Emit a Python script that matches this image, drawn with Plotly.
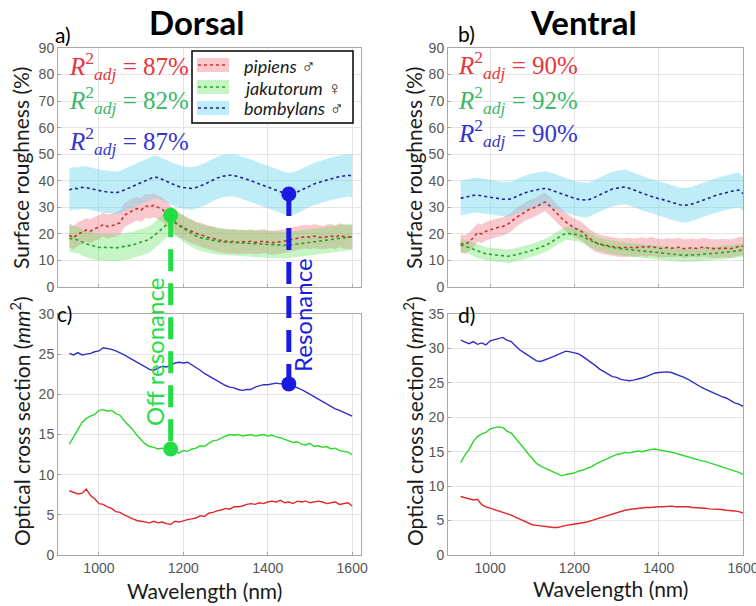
import plotly.graph_objects as go

W, H = 756, 606

# ---------------- DATA ----------------
wl = list(range(930, 1601, 10))  # wavelength (nm)

# Surface roughness (%), Dorsal (panel a)
sr_dors_pipiens = [19.5, 18.5, 20.0, 20.5, 21.5, 21.0, 22.0, 22.5, 23.5, 22.8,
                   23.0, 23.5, 24.2, 27.0, 28.0, 28.8, 29.5, 29.0, 30.5, 30.2,
                   30.8, 30.0, 29.2, 27.8, 26.0, 24.5, 23.2, 22.6, 21.5, 21.0,
                   20.2, 19.8, 19.2, 18.6, 18.4, 17.8, 17.5, 17.3, 17.0, 17.2,
                   16.8, 17.1, 16.9, 17.2, 16.8, 17.0, 17.3, 16.9, 16.7, 16.8,
                   17.0, 17.3, 17.7, 18.0, 18.4, 18.8, 19.0, 18.7, 19.2, 18.8,
                   18.6, 18.9, 19.2, 18.7, 19.5, 19.0, 18.8, 18.9]
sr_dors_jakutorum = [18.3, 18.0, 17.7, 17.0, 16.2, 15.8, 15.3, 14.9, 15.0, 14.8,
                     14.9, 14.7, 15.0, 15.2, 15.4, 15.8, 16.4, 16.8, 17.4, 18.0,
                     19.2, 20.6, 22.0, 23.5, 24.6, 24.2, 23.0, 22.0, 21.0, 20.0,
                     19.2, 18.6, 18.2, 17.8, 17.5, 17.2, 17.0, 16.9, 16.8, 16.7,
                     16.6, 16.5, 16.4, 16.3, 16.2, 16.2, 16.1, 16.0, 15.9, 15.8,
                     15.8, 15.7, 15.8, 15.9, 16.2, 16.4, 16.6, 16.8, 17.0, 17.2,
                     17.4, 17.7, 17.9, 18.1, 18.3, 18.5, 18.7, 18.9]
sr_dors_bombylans = [36.5, 37.2, 37.0, 37.5, 37.4, 37.0, 36.6, 36.2, 36.0, 35.8,
                     35.6, 35.5, 35.8, 36.6, 37.2, 37.9, 38.6, 39.3, 40.1, 40.8,
                     41.4, 41.2, 40.6, 39.8, 39.0, 38.4, 37.8, 37.5, 37.2, 37.1,
                     37.5, 38.0, 38.6, 39.5, 40.4, 41.0, 41.6, 41.9, 42.1, 42.0,
                     41.6, 41.2, 40.6, 40.0, 39.4, 38.8, 38.2, 37.6, 37.1, 36.5,
                     35.8, 35.3, 35.0, 35.2, 35.8, 36.6, 37.5, 38.2, 38.8, 39.3,
                     39.8, 40.3, 40.8, 41.2, 41.5, 41.8, 42.1, 41.8]

# Surface roughness (%), Ventral (panel b)
sr_vent_pipiens = [16.4, 16.0, 17.0, 18.5, 20.5, 20.0, 21.0, 21.4, 22.0, 22.5,
                   22.8, 23.5, 24.5, 26.0, 27.0, 28.3, 29.0, 29.6, 30.2, 31.2,
                   32.0, 30.8, 29.0, 27.5, 25.8, 24.4, 23.2, 22.2, 21.5, 20.6,
                   19.0, 17.8, 16.8, 16.2, 15.8, 15.4, 15.2, 15.0, 14.8, 14.9,
                   15.0, 14.7, 14.9, 15.2, 14.8, 15.3, 15.0, 14.6, 14.5, 14.9,
                   14.6, 14.9, 15.0, 14.4, 14.6, 14.8, 14.5, 14.9, 15.0, 14.6,
                   14.5, 14.4, 14.7, 14.6, 14.4, 14.8, 15.3, 15.4]
sr_vent_jakutorum = [15.8, 15.2, 14.9, 14.2, 13.4, 13.0, 12.5, 12.3, 12.1, 12.0,
                     11.8, 11.6, 11.7, 12.2, 12.5, 12.9, 13.3, 13.8, 14.4, 14.9,
                     15.6, 16.4, 17.4, 18.6, 19.4, 20.2, 20.1, 19.9, 19.5, 19.0,
                     18.2, 17.3, 16.6, 16.0, 15.6, 15.2, 14.9, 14.6, 14.4, 14.2,
                     14.1, 13.9, 13.7, 13.6, 13.4, 13.3, 13.1, 12.9, 12.7, 12.5,
                     12.3, 12.1, 12.0, 11.9, 12.0, 12.0, 12.1, 12.2, 12.4, 12.5,
                     12.6, 12.7, 12.9, 13.1, 13.3, 13.5, 13.7, 13.9]
sr_vent_bombylans = [33.4, 33.8, 34.2, 34.5, 34.6, 34.3, 34.0, 33.8, 33.5, 33.3,
                     33.1, 33.0, 33.2, 34.0, 34.6, 35.3, 35.9, 36.3, 36.7, 36.9,
                     37.1, 36.8, 36.2, 35.6, 35.0, 34.4, 33.9, 33.4, 33.0, 32.8,
                     32.7, 33.2, 34.0, 34.8, 35.6, 36.3, 36.9, 37.2, 37.5, 37.7,
                     37.2, 36.7, 36.0, 35.4, 34.8, 34.2, 33.7, 33.2, 32.9, 32.4,
                     31.9, 31.4, 31.0, 30.8, 30.9, 31.3, 31.9, 32.5, 33.1, 33.7,
                     34.3, 34.7, 35.1, 35.6, 35.9, 36.3, 36.5, 35.2]

# Half-width of the shaded bands (%)
band_dors = {"pipiens": 4.5, "jakutorum": 5.0, "bombylans": 8.0}
band_vent = {"pipiens": 3.5, "jakutorum": 2.5, "bombylans": 6.5}

# Optical cross section (mm^2), Dorsal (panel c)
ocs_dors_pipiens = [8.0, 7.8, 7.6, 7.7, 8.2, 7.4, 7.0, 6.4, 6.3, 6.0,
                    5.8, 5.4, 5.3, 5.0, 4.7, 4.5, 4.3, 4.2, 4.1, 4.0,
                    4.2, 4.0, 4.1, 3.9, 3.8, 4.2, 4.1, 4.3, 4.4, 4.5,
                    4.6, 4.9, 4.8, 5.2, 5.3, 5.5, 5.6, 5.8, 5.7, 6.0,
                    6.0, 6.1, 6.3, 6.4, 6.3, 6.5, 6.4, 6.6, 6.7, 6.6,
                    6.8, 6.5, 6.6, 6.4, 6.7, 6.6, 6.7, 6.5, 6.6, 6.7,
                    6.6, 6.4, 6.5, 6.6, 6.3, 6.4, 6.5, 6.1]
ocs_dors_jakutorum = [13.8, 14.8, 15.6, 16.5, 17.0, 17.3, 17.5, 18.0, 18.1, 17.9,
                      18.0, 17.6, 17.4, 16.7, 16.2, 15.6, 14.9, 14.3, 13.8, 13.5,
                      13.4, 13.2, 13.3, 13.1, 13.2, 12.8, 12.7, 13.0, 12.9, 13.2,
                      13.3, 13.6, 13.5, 13.9, 14.2, 14.3, 14.6, 14.8, 15.0, 14.9,
                      15.0, 14.8, 14.9, 15.0, 14.8, 14.9, 15.0, 14.8, 14.9, 14.7,
                      14.6, 14.4, 14.2, 14.0, 14.1, 13.8, 13.7, 13.9, 13.5, 13.6,
                      13.4, 13.5, 13.2, 13.3, 13.0, 12.9, 12.8, 12.5]
ocs_dors_bombylans = [25.1, 24.9, 25.2, 24.9, 25.0, 25.1, 25.3, 25.4, 25.8, 25.7,
                      25.6, 25.4, 25.2, 24.9, 24.6, 24.3, 23.9, 23.6, 23.3, 23.1,
                      23.0, 23.3, 23.5, 23.4, 23.6, 23.9, 24.0, 23.9, 24.0, 23.7,
                      23.4, 23.0, 22.6, 22.3, 21.9, 21.6, 21.3, 21.1, 20.9, 20.8,
                      20.6, 20.5, 20.6, 20.6, 20.9, 21.1, 21.2, 21.2, 21.3, 21.4,
                      21.3, 21.4, 21.3, 21.1, 20.8, 20.6, 20.3, 20.0, 19.7, 19.4,
                      19.0, 18.7, 18.5, 18.2, 18.0, 17.8, 17.5, 17.3]

# Optical cross section (mm^2), Ventral (panel d)
ocs_vent_pipiens = [8.5, 8.3, 8.2, 8.0, 8.1, 7.3, 7.0, 6.8, 6.7, 6.5,
                    6.2, 6.0, 5.8, 5.5, 5.2, 4.9, 4.6, 4.4, 4.3, 4.2,
                    4.1, 4.0, 4.0, 4.0, 4.2, 4.3, 4.4, 4.5, 4.5, 4.7,
                    4.8, 5.0, 5.2, 5.4, 5.6, 5.8, 6.0, 6.2, 6.3, 6.5,
                    6.6, 6.7, 6.8, 6.8, 6.9, 6.9, 7.0, 7.0, 7.0, 7.1,
                    7.1, 7.0, 7.0, 7.1, 7.0, 6.9, 6.9, 6.8, 6.8, 6.7,
                    6.7, 6.6, 6.6, 6.5, 6.5, 6.4, 6.3, 6.1]
ocs_vent_jakutorum = [13.4, 14.5, 15.3, 16.5, 17.2, 17.6, 17.8, 18.3, 18.5, 18.6,
                      18.5, 18.0, 17.7, 17.0, 16.3, 15.5, 14.7, 14.0, 13.3, 12.9,
                      12.6, 12.4, 12.1, 11.7, 11.5, 11.7, 11.8, 11.9, 12.2, 12.3,
                      12.6, 12.8, 13.2, 13.5, 13.7, 14.0, 14.3, 14.6, 14.7, 14.9,
                      14.8, 15.0, 15.1, 15.0, 15.2, 15.3, 15.4, 15.3, 15.2, 15.1,
                      15.0, 14.8, 14.6, 14.4, 14.2, 14.0, 13.8, 13.7, 13.6, 13.4,
                      13.3, 13.0, 12.9, 12.7, 12.4, 12.2, 12.0, 11.7]
ocs_vent_bombylans = [31.2, 31.0, 30.7, 31.0, 30.6, 30.8, 30.5, 31.1, 31.3, 31.5,
                      31.6, 31.2, 31.0, 30.4, 29.8, 29.4, 29.0, 28.7, 28.2, 28.1,
                      28.3, 28.5, 28.8, 29.1, 29.4, 29.6, 29.5, 29.4, 29.2, 28.8,
                      28.4, 28.0, 27.5, 27.0, 26.6, 26.2, 25.9, 25.8, 25.5, 25.4,
                      25.3, 25.4, 25.5, 25.7, 25.9, 26.2, 26.4, 26.5, 26.6, 26.6,
                      26.5, 26.3, 26.1, 25.8, 25.5, 25.1, 24.8, 24.4, 24.1, 23.8,
                      23.6, 23.3, 23.0, 22.8, 22.4, 22.1, 21.9, 21.6]

r2_dorsal = [87, 82, 87]
r2_ventral = [90, 92, 90]
species = ["pipiens", "jakutorum", "bombylans"]
species_sex = ["♂", "♀", "♂"]

off_res_wl, res_wl = 1170, 1450
off_res_sr, off_res_ocs = 27.0, 13.2
res_sr, res_ocs = 35.0, 21.3

sr_ticks = list(range(0, 91, 10))
ocs_d_ticks = list(range(0, 31, 5))
ocs_v_ticks = list(range(0, 36, 5))
wl_ticks = [1000, 1200, 1400, 1600]

# ---------------- STYLE ----------------
line_col = {"pipiens": "#e02828", "jakutorum": "#2ad82a", "bombylans": "#2e2ec8"}
dot_col = {"pipiens": "#c83030", "jakutorum": "#1fa81f", "bombylans": "#2020a0"}
band_col = {"pipiens": "rgba(240,110,120,0.38)", "jakutorum": "rgba(90,225,90,0.35)",
            "bombylans": "rgba(110,215,240,0.45)"}
r2_col = ["#e8353a", "#3cb86a", "#3535cc"]
green_ann = "#22dd44"
blue_ann = "#1a1ae0"


def px(x):
    return x / W


def py(y):
    return 1 - y / H


dom_x_left = [px(58), px(361)]
dom_x_right = [px(448), px(743)]
dom_y_top = [py(287), py(48)]
dom_y_bot = [py(555), py(314)]
range_left = [903, 1621]
range_right = [900, 1600]

fig = go.Figure()

panels = [
    ("x", "y", [sr_dors_pipiens, sr_dors_jakutorum, sr_dors_bombylans], band_dors),
    ("x2", "y2", [sr_vent_pipiens, sr_vent_jakutorum, sr_vent_bombylans], band_vent),
]
for xa, ya, series, bands in panels:
    for sp, vals in zip(species, series):
        hw = bands[sp]
        upper = [v + hw for v in vals]
        lower = [v - hw for v in vals]
        fig.add_trace(go.Scatter(x=wl + wl[::-1], y=upper + lower[::-1], fill="toself",
                                 fillcolor=band_col[sp], line=dict(width=0), mode="lines",
                                 hoverinfo="skip", showlegend=False, xaxis=xa, yaxis=ya))
    for sp, vals in zip(species, series):
        fig.add_trace(go.Scatter(x=wl, y=vals, mode="lines",
                                 line=dict(color=dot_col[sp], width=1.6, dash="dot"),
                                 showlegend=False, xaxis=xa, yaxis=ya))

for xa, ya, series in [("x3", "y3", [ocs_dors_pipiens, ocs_dors_jakutorum, ocs_dors_bombylans]),
                       ("x4", "y4", [ocs_vent_pipiens, ocs_vent_jakutorum, ocs_vent_bombylans])]:
    for sp, vals in zip(species, series):
        fig.add_trace(go.Scatter(x=wl, y=vals, mode="lines",
                                 line=dict(color=line_col[sp], width=1.4),
                                 showlegend=False, xaxis=xa, yaxis=ya))

# resonance markers
fig.add_trace(go.Scatter(x=[off_res_wl], y=[off_res_sr], mode="markers",
                         marker=dict(color=green_ann, size=15), showlegend=False, xaxis="x", yaxis="y"))
fig.add_trace(go.Scatter(x=[res_wl], y=[res_sr], mode="markers",
                         marker=dict(color=blue_ann, size=15), showlegend=False, xaxis="x", yaxis="y"))
fig.add_trace(go.Scatter(x=[off_res_wl], y=[off_res_ocs], mode="markers",
                         marker=dict(color=green_ann, size=15), showlegend=False, xaxis="x3", yaxis="y3"))
fig.add_trace(go.Scatter(x=[res_wl], y=[res_ocs], mode="markers",
                         marker=dict(color=blue_ann, size=15), showlegend=False, xaxis="x3", yaxis="y3"))


def to_paper(v, rng, dom):
    return dom[0] + (v - rng[0]) / (rng[1] - rng[0]) * (dom[1] - dom[0])


shapes = []
for wlv, v_top, v_bot, col in [(off_res_wl, off_res_sr, off_res_ocs, green_ann),
                               (res_wl, res_sr, res_ocs, blue_ann)]:
    shapes.append(dict(type="line", xref="x", yref="paper", x0=wlv, x1=wlv,
                       y0=to_paper(v_top, [0, 90], dom_y_top),
                       y1=to_paper(v_bot, [0, 30], dom_y_bot),
                       line=dict(color=col, width=5, dash="22px,12px"), layer="above"))

# legend box (panel a)
shapes.append(dict(type="rect", xref="paper", yref="paper", x0=px(192), x1=px(353),
                   y0=py(123), y1=py(51), line=dict(color="black", width=1.5),
                   fillcolor="white", layer="above"))
annotations = []
leg_rows = [65, 87, 108]
for sp, sx, yr in zip(species, species_sex, leg_rows):
    shapes.append(dict(type="rect", xref="paper", yref="paper", x0=px(197), x1=px(229),
                       y0=py(yr + 7), y1=py(yr - 7), line=dict(width=0),
                       fillcolor=band_col[sp], layer="above"))
    shapes.append(dict(type="line", xref="paper", yref="paper", x0=px(198), x1=px(228),
                       y0=py(yr), y1=py(yr), line=dict(color=dot_col[sp], width=1.6, dash="dot"),
                       layer="above"))
    annotations.append(dict(xref="paper", yref="paper", x=px(242), y=py(yr), xanchor="left",
                            yanchor="middle", showarrow=False,
                            text=f"<i>{sp}</i> <span style='font-size:19px'>{sx}</span>",
                            font=dict(family="Lato, Open Sans, sans-serif", size=18, color="#1a1a1a")))

# R^2 annotations
for vals, x0, ys in [(r2_dorsal, 67, [66, 100, 141]), (r2_ventral, 456, [65, 100, 133])]:
    for v, c, yy in zip(vals, r2_col, ys):
        annotations.append(dict(xref="paper", yref="paper", x=px(x0), y=py(yy), xanchor="left",
                                yanchor="middle", showarrow=False,
                                text=f"<i>R</i><sup>2</sup><sub><i>adj</i></sub> = {v}%",
                                font=dict(family="Liberation Serif, DejaVu Serif, serif", size=25, color=c)))

title_font = dict(family="Lato, Open Sans, sans-serif", size=33, color="black")
annotations += [
    dict(xref="paper", yref="paper", x=px(197), y=py(22), text="<b>Dorsal</b>", showarrow=False,
         font=title_font, xanchor="center", yanchor="middle"),
    dict(xref="paper", yref="paper", x=px(583), y=py(22), text="<b>Ventral</b>", showarrow=False,
         font=title_font, xanchor="center", yanchor="middle"),
]
lab_font = dict(family="Lato, Open Sans, sans-serif", size=21, color="black")
for t, x, y in [("a)", 63, 35), ("b)", 467, 33), ("c)", 64, 313), ("d)", 467, 314)]:
    annotations.append(dict(xref="paper", yref="paper", x=px(x), y=py(y), text=t, showarrow=False,
                            font=lab_font, xanchor="center", yanchor="middle"))

ax_font = dict(family="Lato, Open Sans, sans-serif", size=21, color="#1a1a1a")
for x, y, t in [(20, 168, "Surface roughness (%)"), (413, 168, "Surface roughness (%)"),
                (20, 421, "Optical cross section (<i>mm</i><sup>2</sup>)"),
                (413, 421, "Optical cross section (<i>mm</i><sup>2</sup>)")]:
    annotations.append(dict(xref="paper", yref="paper", x=px(x), y=py(y), text=t, showarrow=False,
                            textangle=-90, font=ax_font, xanchor="center", yanchor="middle"))
for x, y in [(204, 590), (610, 588)]:
    annotations.append(dict(xref="paper", yref="paper", x=px(x), y=py(y), text="Wavelength (nm)",
                            showarrow=False, font=ax_font, xanchor="center", yanchor="middle"))

annotations.append(dict(xref="paper", yref="paper", x=px(154), y=py(352), text="Off resonance",
                        showarrow=False, textangle=-90, xanchor="center", yanchor="middle",
                        font=dict(family="Lato, Open Sans, sans-serif", size=24, color=green_ann)))
annotations.append(dict(xref="paper", yref="paper", x=px(302), y=py(315), text="Resonance",
                        showarrow=False, textangle=-90, xanchor="center", yanchor="middle",
                        font=dict(family="Lato, Open Sans, sans-serif", size=24, color=blue_ann)))

common = dict(showgrid=True, gridcolor="#e4e4e4", gridwidth=1, showline=True, linecolor="#a8a8a8",
              linewidth=1, mirror=True, ticks="inside", ticklen=3, tickcolor="#a8a8a8",
              tickfont=dict(family="Liberation Sans, Arial, sans-serif", size=14, color="#555555"),
              zeroline=False, automargin=False, fixedrange=True, ticklabeloverflow="allow")

fig.update_layout(
    width=W, height=H, margin=dict(l=0, r=0, t=0, b=0),
    paper_bgcolor="white", plot_bgcolor="white", showlegend=False,
    xaxis=dict(domain=dom_x_left, range=range_left, anchor="y", tickvals=wl_ticks,
               showticklabels=False, **common),
    yaxis=dict(domain=dom_y_top, range=[0, 90], anchor="x", tickvals=sr_ticks, **common),
    xaxis2=dict(domain=dom_x_right, range=range_right, anchor="y2", tickvals=wl_ticks,
                showticklabels=False, **common),
    yaxis2=dict(domain=dom_y_top, range=[0, 90], anchor="x2", tickvals=sr_ticks, **common),
    xaxis3=dict(domain=dom_x_left, range=range_left, anchor="y3", tickvals=wl_ticks, **common),
    yaxis3=dict(domain=dom_y_bot, range=[0, 30], anchor="x3", tickvals=ocs_d_ticks, **common),
    xaxis4=dict(domain=dom_x_right, range=range_right, anchor="y4", tickvals=wl_ticks, **common),
    yaxis4=dict(domain=dom_y_bot, range=[0, 35], anchor="x4", tickvals=ocs_v_ticks, **common),
    shapes=shapes, annotations=annotations,
)

fig.write_html("out.html", config={"displayModeBar": False},
               post_script="document.body.style.margin='0';document.body.style.overflow='hidden';")
